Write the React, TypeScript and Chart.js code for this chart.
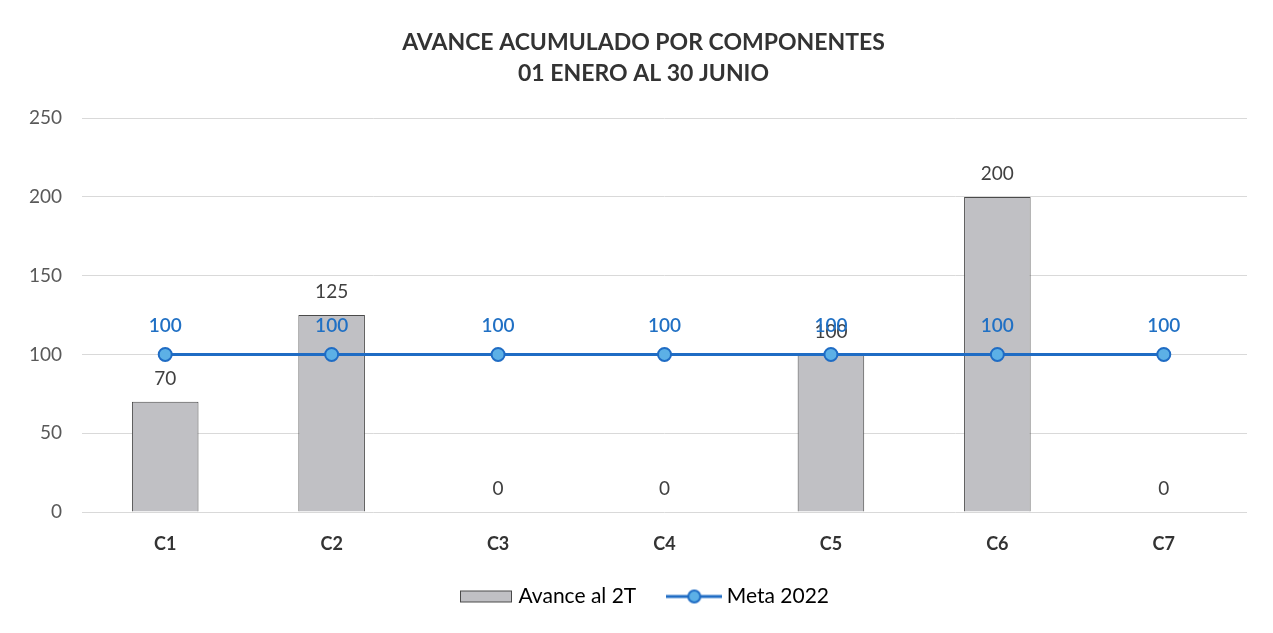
import React, { useEffect, useRef } from "react";
import { Chart, registerables } from "chart.js";

Chart.register(...registerables);

const categories = ["C1", "C2", "C3", "C4", "C5", "C6", "C7"];
const avanceValues = [70, 125, 0, 0, 100, 200, 0];
const metaValues = [100, 100, 100, 100, 100, 100, 100];
const yTickValues = [0, 50, 100, 150, 200, 250];
const titleLines = ["AVANCE ACUMULADO POR COMPONENTES", "01 ENERO AL 30 JUNIO"];
const seriesNames = ["Avance al 2T", "Meta 2022"];

const FONT = "Lato, 'Open Sans', sans-serif";
const BAR_FILL = "#c0c0c4";
const BAR_BORDER = "#4a4a4a";
const LINE_COLOR = "#1f6cc4";
const POINT_FILL = "#5cb0e6";

function makeBarSwatch() {
  const c = document.createElement("canvas");
  c.width = 54;
  c.height = 14;
  const g = c.getContext("2d")!;
  g.fillStyle = BAR_FILL;
  g.fillRect(1, 1, 52, 12);
  g.strokeStyle = BAR_BORDER;
  g.lineWidth = 1;
  g.strokeRect(1.5, 1.5, 51, 11);
  return c;
}

function makeLineSwatch() {
  const c = document.createElement("canvas");
  c.width = 56;
  c.height = 16;
  const g = c.getContext("2d")!;
  g.strokeStyle = LINE_COLOR;
  g.lineWidth = 3;
  g.beginPath();
  g.moveTo(0, 8);
  g.lineTo(56, 8);
  g.stroke();
  g.beginPath();
  g.arc(28, 8, 6, 0, Math.PI * 2);
  g.fillStyle = POINT_FILL;
  g.fill();
  g.lineWidth = 2;
  g.stroke();
  return c;
}

const valueLabels = {
  id: "valueLabels",
  afterDatasetsDraw(chart: any) {
    const ctx = chart.ctx;
    chart.data.datasets.forEach((ds: any, i: number) => {
      const meta = chart.getDatasetMeta(i);
      meta.data.forEach((el: any, j: number) => {
        const v = ds.data[j];
        ctx.save();
        ctx.textAlign = "center";
        ctx.textBaseline = "middle";
        if (ds.type === "bar") {
          ctx.font = `19px ${FONT}`;
          ctx.fillStyle = "#404040";
          ctx.fillText(String(v), el.x, el.y - 23);
        } else {
          ctx.font = `600 19px ${FONT}`;
          ctx.fillStyle = "#2070c4";
          ctx.fillText(String(v), el.x, el.y - 29);
        }
        ctx.restore();
      });
    });
  },
};

// shift title and legend boxes to the right, as in the reference (centred on ~x=644)
const shiftBlocks = {
  id: "shiftBlocks",
  afterLayout(chart: any) {
    const t = chart.titleBlock;
    if (t) {
      t.left += 16;
      t.right += 16;
    }
    const l = chart.legend;
    if (l) {
      l.left += 19;
      l.right += 19;
    }
  },
};

export default function App() {
  const ref = useRef<HTMLCanvasElement | null>(null);

  useEffect(() => {
    if (!ref.current) return;
    const barSwatch = makeBarSwatch();
    const lineSwatch = makeLineSwatch();
    const chart = new Chart(ref.current, {
      type: "bar",
      data: {
        labels: categories,
        datasets: [
          {
            type: "bar",
            label: seriesNames[0],
            data: avanceValues,
            backgroundColor: BAR_FILL,
            borderColor: BAR_BORDER,
            borderWidth: 1,
            barPercentage: 0.4,
            categoryPercentage: 1,
            order: 1,
          } as any,
          {
            type: "line",
            label: seriesNames[1],
            data: metaValues,
            borderColor: LINE_COLOR,
            borderWidth: 3,
            pointRadius: 6.5,
            pointBackgroundColor: POINT_FILL,
            pointBorderColor: LINE_COLOR,
            pointBorderWidth: 2,
            order: 0,
          } as any,
        ],
      },
      options: {
        animation: false,
        responsive: true,
        maintainAspectRatio: false,
        layout: { padding: { left: 0, right: 18, top: 0, bottom: 8 } },
        plugins: {
          title: {
            display: true,
            text: titleLines,
            color: "#333333",
            font: { family: FONT, size: 23, weight: "bold", lineHeight: 1.35 },
            padding: { top: 19, bottom: 29 },
          },
          legend: {
            display: true,
            position: "bottom",
            labels: {
              usePointStyle: true,
              pointStyleWidth: 44,
              boxHeight: 14,
              color: "#404040",
              font: { family: FONT, size: 21 },
              padding: 36,
              generateLabels: () => [
                {
                  text: seriesNames[0],
                  pointStyle: barSwatch as any,
                  fillStyle: BAR_FILL,
                  strokeStyle: BAR_BORDER,
                  lineWidth: 0,
                  hidden: false,
                  datasetIndex: 0,
                } as any,
                {
                  text: seriesNames[1],
                  pointStyle: lineSwatch as any,
                  fillStyle: POINT_FILL,
                  strokeStyle: LINE_COLOR,
                  lineWidth: 0,
                  hidden: false,
                  datasetIndex: 1,
                } as any,
              ],
            },
          },
          tooltip: { enabled: false },
        },
        scales: {
          x: {
            grid: { display: false, drawTicks: false },
            border: { display: false },
            ticks: {
              color: "#333333",
              font: { family: FONT, size: 18, weight: "bold" },
              padding: 21,
            },
            afterFit: (s: any) => {
              s.height = 38;
            },
          },
          y: {
            min: 0,
            max: 250,
            afterBuildTicks: (s: any) => {
              s.ticks = yTickValues.map((v) => ({ value: v }));
            },
            grid: { color: "#d9d9d9", lineWidth: 1, drawTicks: false },
            border: { display: false },
            ticks: {
              color: "#595959",
              font: { family: FONT, size: 19 },
              padding: 20,
            },
            afterFit: (s: any) => {
              s.width = 74;
            },
          },
        },
      },
      plugins: [valueLabels, shiftBlocks],
    });
    return () => chart.destroy();
  }, []);

  return (
    <div style={{ width: 1257, height: 617, position: "relative" }}>
      <canvas ref={ref} />
    </div>
  );
}
